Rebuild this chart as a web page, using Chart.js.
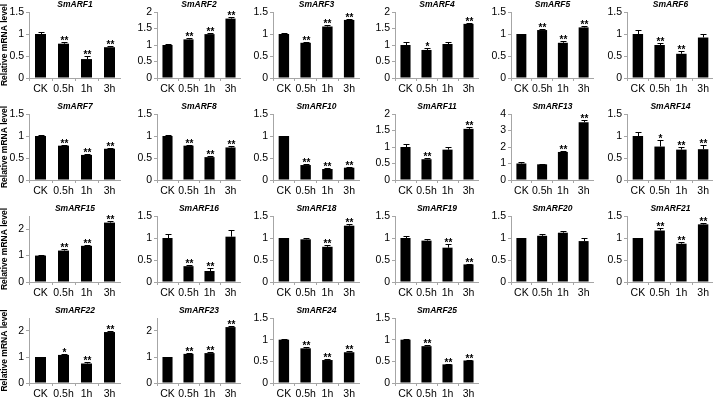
<!DOCTYPE html>
<html>
<head>
<meta charset="utf-8">
<script src="https://cdn.jsdelivr.net/npm/chart.js@4.4.0/dist/chart.umd.min.js"></script>
<style>
  html, body { margin: 0; padding: 0; background: #fff; }
  #wrap { position: relative; width: 713px; height: 405px; overflow: hidden; }
  #wrap canvas { position: absolute; }
</style>
</head>
<body>
<div id="wrap"></div>
<script>
// data
const categories = ["CK", "0.5h", "1h", "3h"];
const genes = [
  "SmARF1", "SmARF2", "SmARF3", "SmARF4", "SmARF5", "SmARF6",
  "SmARF7", "SmARF8", "SmARF10", "SmARF11", "SmARF13", "SmARF14",
  "SmARF15", "SmARF16", "SmARF18", "SmARF19", "SmARF20", "SmARF21",
  "SmARF22", "SmARF23", "SmARF24", "SmARF25"
];
const means = [
  [1.0, 0.78, 0.43, 0.70], [1.0, 1.17, 1.33, 1.80], [1.0, 0.80, 1.17, 1.32],
  [1.0, 0.85, 1.03, 1.64], [1.0, 1.09, 0.80, 1.15], [1.0, 0.75, 0.55, 0.92],
  [1.0, 0.78, 0.57, 0.71], [1.0, 0.78, 0.52, 0.74], [1.0, 0.34, 0.25, 0.28],
  [1.0, 0.63, 0.92, 1.55], [1.0, 0.95, 1.70, 3.50], [1.0, 0.76, 0.69, 0.70],
  [1.0, 1.19, 1.37, 2.25], [1.0, 0.36, 0.25, 1.03], [1.0, 0.97, 0.80, 1.28],
  [1.0, 0.94, 0.78, 0.40], [1.0, 1.05, 1.12, 0.93], [1.0, 1.17, 0.87, 1.31],
  [1.0, 1.08, 0.75, 1.96], [1.0, 1.12, 1.15, 2.15], [1.0, 0.80, 0.53, 0.71],
  [1.0, 0.85, 0.43, 0.52]
];
const errors = [
  [0.04, 0.04, 0.06, 0.03], [0.02, 0.05, 0.04, 0.04], [0.03, 0.02, 0.04, 0.03],
  [0.08, 0.06, 0.05, 0.03], [0.01, 0.03, 0.04, 0.03], [0.10, 0.05, 0.06, 0.08],
  [0.02, 0.02, 0.02, 0.02], [0.02, 0.02, 0.02, 0.03], [0.01, 0.02, 0.02, 0.02],
  [0.10, 0.03, 0.08, 0.06], [0.12, 0.05, 0.08, 0.15], [0.08, 0.14, 0.05, 0.10],
  [0.03, 0.05, 0.05, 0.06], [0.10, 0.03, 0.07, 0.15], [0.01, 0.03, 0.03, 0.03],
  [0.04, 0.03, 0.08, 0.02], [0.01, 0.03, 0.05, 0.07], [0.01, 0.05, 0.03, 0.02],
  [0.01, 0.04, 0.04, 0.04], [0.01, 0.04, 0.04, 0.04], [0.01, 0.03, 0.02, 0.02],
  [0.01, 0.02, 0.02, 0.02]
];
const marks = [
  ["", "**", "**", "**"], ["", "**", "**", "**"], ["", "**", "**", "**"],
  ["", "*", "", "**"], ["", "**", "**", "**"], ["", "**", "**", ""],
  ["", "**", "**", "**"], ["", "**", "**", "**"], ["", "**", "**", "**"],
  ["", "**", "", "**"], ["", "", "**", "**"], ["", "*", "**", "**"],
  ["", "**", "**", "**"], ["", "**", "**", ""], ["", "", "**", "**"],
  ["", "", "**", "**"], ["", "", "", ""], ["", "**", "**", "**"],
  ["", "*", "**", "**"], ["", "**", "**", "**"], ["", "**", "**", "**"],
  ["", "**", "**", "**"]
];
const yMax = [1.5, 2, 1.5, 2, 1.5, 1.5, 1.5, 1.5, 1.5, 2, 4, 1.5,
  2.5, 1.5, 1.5, 1.5, 1.5, 1.5, 2.5, 2.5, 1.5, 1.5];
const yStep = [0.5, 0.5, 0.5, 0.5, 0.5, 0.5, 0.5, 0.5, 0.5, 0.5, 1, 0.5,
  0.5, 0.5, 0.5, 0.5, 0.5, 0.5, 0.5, 0.5, 0.5, 0.5];
const yTitle = "Relative mRNA level";

// plot area of each grid cell
const colLeft = [29, 157, 273, 395, 511, 627];
const colRight = [118, 238, 357, 476, 591, 711];
const rowTop = [12, 114, 216, 318];
const rowBottom = [78, 180, 282, 383];

const FONT = "'Liberation Sans', Arial, sans-serif";
const AXIS = "#a6a6a6";

// panel title, error bars and significance stars
const errorBars = {
  id: "errorBars",
  afterDatasetsDraw(chart) {
    const ctx = chart.ctx;
    const y = chart.scales.y;
    const area = chart.chartArea;
    const ds = chart.data.datasets[0];
    const meta = chart.getDatasetMeta(0);
    ctx.save();
    ctx.strokeStyle = "#000";
    ctx.fillStyle = "#000";
    ctx.lineWidth = 1;
    ctx.textAlign = "center";
    ctx.textBaseline = "middle";
    ctx.font = "italic bold 8.5px " + FONT;
    ctx.fillText(ds.label, (area.left + area.right) / 2, area.top - 7);

    ctx.font = "bold 10px " + FONT;
    ctx.textBaseline = "alphabetic";
    meta.data.forEach(function (bar, i) {
      const top = Math.round(y.getPixelForValue(ds.data[i] + ds.errors[i])) + 0.5;
      const x = Math.round(bar.x) + 0.5;
      ctx.beginPath();
      ctx.moveTo(x, bar.y);
      ctx.lineTo(x, top);
      ctx.moveTo(x - 3, top);
      ctx.lineTo(x + 3, top);
      ctx.stroke();
      if (ds.marks[i]) ctx.fillText(ds.marks[i], x, top + 1);
    });
    ctx.restore();
  }
};

const wrap = document.getElementById("wrap");

genes.forEach(function (gene, k) {
  const col = k % 6;
  const row = Math.floor(k / 6);
  const yw = col === 0 ? colLeft[0] : 30;
  const left = colLeft[col] - yw;
  const plotW = colRight[col] - colLeft[col];
  const plotH = rowBottom[row] - rowTop[row];
  const titleH = 14;
  const xh = 20;

  const canvas = document.createElement("canvas");
  canvas.width = yw + plotW + 3;
  canvas.height = titleH + plotH + xh;
  canvas.style.left = left + "px";
  canvas.style.top = (rowTop[row] - titleH) + "px";
  wrap.appendChild(canvas);

  new Chart(canvas, {
    type: "bar",
    data: {
      labels: categories,
      datasets: [
        {
          label: gene,
          data: means[k],
          errors: errors[k],
          marks: marks[k],
          backgroundColor: "#000",
          borderWidth: 0,
          categoryPercentage: 1,
          barPercentage: 0.48,
        },
      ],
    },
    options: {
      responsive: false,
      animation: false,
      devicePixelRatio: 1,
      layout: { padding: { top: titleH } },
      plugins: {
        legend: { display: false },
        tooltip: { enabled: false },
        title: { display: false },
      },
      scales: {
        x: {
          grid: { display: true, drawOnChartArea: false, tickLength: 3, color: AXIS },
          border: { color: AXIS },
          ticks: { color: "#000", padding: 2, font: { family: FONT, size: 10.5 }, maxRotation: 0, autoSkip: false },
          afterFit: function (s) { s.height = xh; },
        },
        y: {
          min: 0,
          max: yMax[k],
          grid: { display: true, drawOnChartArea: false, tickLength: 3, color: AXIS },
          border: { color: AXIS },
          ticks: {
            stepSize: yStep[k],
            color: "#000",
            padding: 2,
            font: { family: FONT, size: 10.5 },
            callback: function (v) { return String(Math.round(v * 100) / 100); },
          },
          title: {
            display: col === 0,
            text: yTitle,
            color: "#000",
            padding: 0,
            font: { family: FONT, size: 8.5, weight: "bold" },
          },
          afterFit: function (s) { s.width = yw; },
        },
      },
    },
    plugins: [errorBars],
  });
});
</script>
</body>
</html>
